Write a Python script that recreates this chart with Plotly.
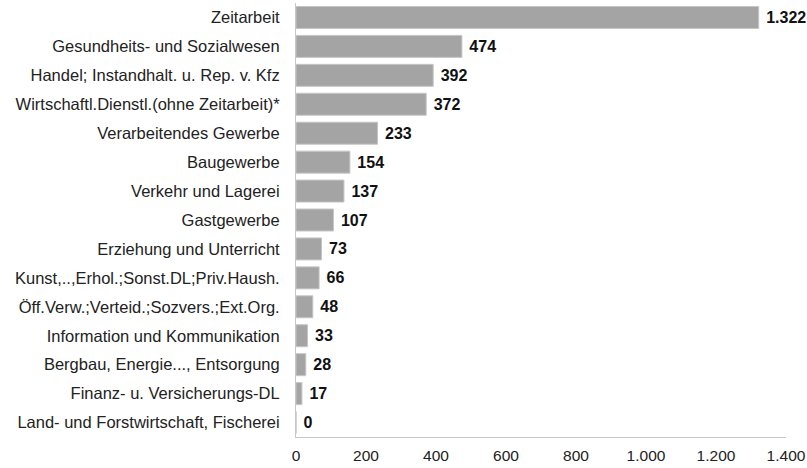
import plotly.graph_objects as go

# Branchen (von oben nach unten) und Werte
branchen = [
    "Zeitarbeit",
    "Gesundheits- und Sozialwesen",
    "Handel; Instandhalt. u. Rep. v. Kfz",
    "Wirtschaftl.Dienstl.(ohne Zeitarbeit)*",
    "Verarbeitendes Gewerbe",
    "Baugewerbe",
    "Verkehr und Lagerei",
    "Gastgewerbe",
    "Erziehung und Unterricht",
    "Kunst,..,Erhol.;Sonst.DL;Priv.Haush.",
    "Öff.Verw.;Verteid.;Sozvers.;Ext.Org.",
    "Information und Kommunikation",
    "Bergbau, Energie..., Entsorgung",
    "Finanz- u. Versicherungs-DL",
    "Land- und Forstwirtschaft, Fischerei",
]
werte = [1322, 474, 392, 372, 233, 154, 137, 107, 73, 66, 48, 33, 28, 17, 0]
x_ticks = [0, 200, 400, 600, 800, 1000, 1200, 1400]

fig = go.Figure()

fig.add_trace(go.Bar(
    x=werte,
    y=branchen,
    orientation='h',
    marker=dict(color='#a4a4a4', line=dict(color='#c6c6c6', width=1)),
    text=werte,
    texttemplate='\u00a0<b>%{x:,d}</b>',
    textposition='outside',
    cliponaxis=False,
    textfont=dict(size=16, color='#111111', family='Liberation Sans, Arial'),
    showlegend=False,
))

fig.update_layout(
    width=807,
    height=468,
    separators=',.',
    bargap=0.24,
    plot_bgcolor='white',
    paper_bgcolor='white',
    font=dict(family='Liberation Sans, Arial', size=16, color='#222222'),
    margin=dict(l=296, r=21, t=3, b=31, autoexpand=False),
    xaxis=dict(
        range=[0, 1400],
        tickvals=x_ticks,
        tickformat=',d',
        showgrid=False,
        zeroline=False,
        showline=True,
        linecolor='#c8c8c8',
        linewidth=1,
        ticks='',
        ticklabelstandoff=4,
        tickfont=dict(size=15.5, color='#222222'),
    ),
    yaxis=dict(
        autorange='reversed',
        automargin=False,
        showgrid=False,
        showline=True,
        linecolor='#c8c8c8',
        linewidth=1,
        ticks='',
        ticklabelstandoff=12,
        tickfont=dict(size=16.5, color='#222222'),
    ),
)

# Seitenrand des Browsers entfernen, damit die Abbildung bei (0, 0) beginnt
fig.write_html(
    "out.html",
    config={'displayModeBar': False},
    post_script="document.body.style.margin='0';",
)
